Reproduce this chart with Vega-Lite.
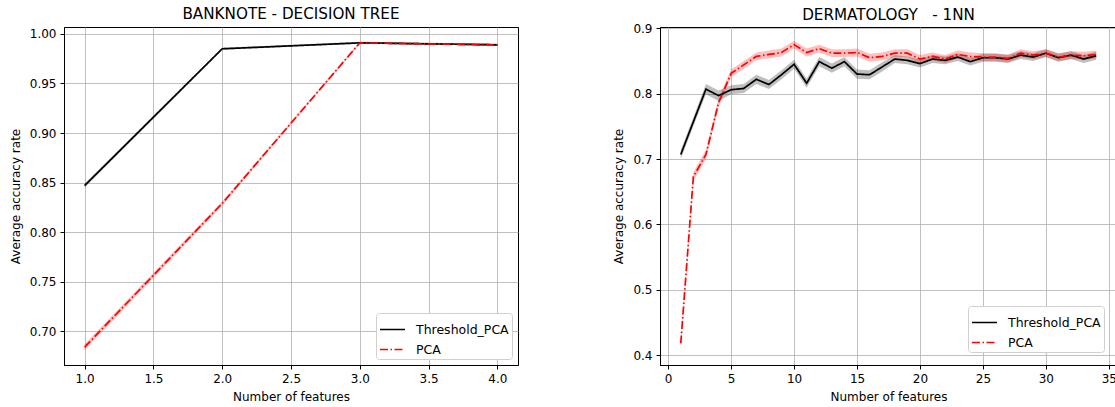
{
  "$schema": "https://vega.github.io/schema/vega-lite/v6.json",
  "padding": {"left": 8, "top": 6, "right": 0, "bottom": 0},
  "background": "white",
  "bounds": "flush",
  "spacing": 142,
  "config": {
    "font": "DejaVu Sans",
    "view": {"stroke": "black", "strokeWidth": 1},
    "axis": {
      "labelFont": "DejaVu Sans", "labelFontSize": 12, "labelColor": "black",
      "titleFont": "DejaVu Sans", "titleFontSize": 12, "titleFontWeight": "normal", "titleColor": "black",
      "tickColor": "black", "tickSize": 4, "labelPadding": 4, "domainColor": "black",
      "grid": true, "gridColor": "#b0b0b0", "gridWidth": 0.8, "titlePadding": 7
    },
    "title": {"font": "DejaVu Sans", "fontSize": 15.2, "fontWeight": "normal", "color": "black", "offset": 4.5, "anchor": "middle"},
    "legend": {
      "fillColor": "white", "strokeColor": "#d0d0d0", "cornerRadius": 3,
      "padding": 3, "labelFont": "DejaVu Sans", "labelFontSize": 12.5, "labelColor": "black",
      "symbolStrokeWidth": 1.7, "labelOffset": 10, "symbolSize": 625, "rowPadding": -3
    }
  },
  "resolve": {
    "scale": {"x": "independent", "y": "independent", "stroke": "independent", "strokeDash": "independent", "fill": "independent"},
    "legend": {"stroke": "independent", "strokeDash": "independent"}
  },
  "hconcat": [
    {
      "width": 454, "height": 338,
      "title": "BANKNOTE - DECISION TREE",
      "data": {"values": [
        {"n": 1, "s": "Threshold_PCA", "acc": 0.847, "lo": 0.845, "hi": 0.849},
        {"n": 2, "s": "Threshold_PCA", "acc": 0.985, "lo": 0.984, "hi": 0.986},
        {"n": 3, "s": "Threshold_PCA", "acc": 0.991, "lo": 0.990, "hi": 0.992},
        {"n": 4, "s": "Threshold_PCA", "acc": 0.989, "lo": 0.988, "hi": 0.990},
        {"n": 1, "s": "PCA", "acc": 0.684, "lo": 0.681, "hi": 0.687},
        {"n": 2, "s": "PCA", "acc": 0.829, "lo": 0.827, "hi": 0.831},
        {"n": 3, "s": "PCA", "acc": 0.991, "lo": 0.990, "hi": 0.992},
        {"n": 4, "s": "PCA", "acc": 0.989, "lo": 0.988, "hi": 0.990}
      ]},
      "encoding": {
        "x": {"field": "n", "type": "quantitative", "scale": {"domain": [0.85, 4.15], "nice": false, "zero": false},
              "axis": {"values": [1, 1.5, 2, 2.5, 3, 3.5, 4], "format": ".1f", "title": "Number of features"}}
      },
      "layer": [
        {
          "mark": {"type": "area", "opacity": 0.25},
          "encoding": {
            "y": {"field": "lo", "type": "quantitative", "scale": {"domain": [0.666, 1.007], "nice": false, "zero": false},
                  "axis": {"values": [0.7, 0.75, 0.8, 0.85, 0.9, 0.95, 1.0], "format": ".2f", "title": "Average accuracy rate"}},
            "y2": {"field": "hi"},
            "fill": {"field": "s", "type": "nominal", "scale": {"domain": ["PCA", "Threshold_PCA"], "range": ["#ff0000", "#000000"]}, "legend": null}
          }
        },
        {
          "mark": {"type": "line", "strokeWidth": 1.7},
          "encoding": {
            "y": {"field": "acc", "type": "quantitative"},
            "stroke": {"field": "s", "type": "nominal", "scale": {"domain": ["Threshold_PCA", "PCA"], "range": ["#000000", "#ff0000"]}, "legend": {"orient": "bottom-right", "title": null, "offset": 6}},
            "strokeDash": {"field": "s", "type": "nominal", "scale": {"domain": ["Threshold_PCA", "PCA"], "range": [[1, 0], [8, 2.5, 1.5, 2.5]]}, "legend": {"orient": "bottom-right", "title": null, "offset": 6}}
          }
        }
      ]
    },
    {
      "width": 457, "height": 338,
      "title": {"text": "DERMATOLOGY\u00a0\u00a0 - 1NN", "offset": -1},
      "data": {"values": [
        {"n": 1, "s": "Threshold_PCA", "acc": 0.707, "lo": 0.700, "hi": 0.714},
        {"n": 2, "s": "Threshold_PCA", "acc": 0.757, "lo": 0.750, "hi": 0.764},
        {"n": 3, "s": "Threshold_PCA", "acc": 0.807, "lo": 0.799, "hi": 0.815},
        {"n": 4, "s": "Threshold_PCA", "acc": 0.797, "lo": 0.789, "hi": 0.805},
        {"n": 5, "s": "Threshold_PCA", "acc": 0.806, "lo": 0.799, "hi": 0.813},
        {"n": 6, "s": "Threshold_PCA", "acc": 0.808, "lo": 0.801, "hi": 0.815},
        {"n": 7, "s": "Threshold_PCA", "acc": 0.822, "lo": 0.815, "hi": 0.829},
        {"n": 8, "s": "Threshold_PCA", "acc": 0.814, "lo": 0.807, "hi": 0.821},
        {"n": 9, "s": "Threshold_PCA", "acc": 0.829, "lo": 0.822, "hi": 0.836},
        {"n": 10, "s": "Threshold_PCA", "acc": 0.845, "lo": 0.838, "hi": 0.852},
        {"n": 11, "s": "Threshold_PCA", "acc": 0.816, "lo": 0.809, "hi": 0.823},
        {"n": 12, "s": "Threshold_PCA", "acc": 0.849, "lo": 0.842, "hi": 0.856},
        {"n": 13, "s": "Threshold_PCA", "acc": 0.839, "lo": 0.832, "hi": 0.846},
        {"n": 14, "s": "Threshold_PCA", "acc": 0.849, "lo": 0.842, "hi": 0.856},
        {"n": 15, "s": "Threshold_PCA", "acc": 0.830, "lo": 0.823, "hi": 0.837},
        {"n": 16, "s": "Threshold_PCA", "acc": 0.829, "lo": 0.822, "hi": 0.836},
        {"n": 17, "s": "Threshold_PCA", "acc": 0.841, "lo": 0.834, "hi": 0.848},
        {"n": 18, "s": "Threshold_PCA", "acc": 0.853, "lo": 0.847, "hi": 0.859},
        {"n": 19, "s": "Threshold_PCA", "acc": 0.851, "lo": 0.845, "hi": 0.857},
        {"n": 20, "s": "Threshold_PCA", "acc": 0.846, "lo": 0.840, "hi": 0.852},
        {"n": 21, "s": "Threshold_PCA", "acc": 0.853, "lo": 0.847, "hi": 0.859},
        {"n": 22, "s": "Threshold_PCA", "acc": 0.851, "lo": 0.845, "hi": 0.857},
        {"n": 23, "s": "Threshold_PCA", "acc": 0.856, "lo": 0.850, "hi": 0.862},
        {"n": 24, "s": "Threshold_PCA", "acc": 0.849, "lo": 0.843, "hi": 0.855},
        {"n": 25, "s": "Threshold_PCA", "acc": 0.855, "lo": 0.849, "hi": 0.861},
        {"n": 26, "s": "Threshold_PCA", "acc": 0.855, "lo": 0.849, "hi": 0.861},
        {"n": 27, "s": "Threshold_PCA", "acc": 0.853, "lo": 0.847, "hi": 0.859},
        {"n": 28, "s": "Threshold_PCA", "acc": 0.859, "lo": 0.853, "hi": 0.865},
        {"n": 29, "s": "Threshold_PCA", "acc": 0.856, "lo": 0.850, "hi": 0.862},
        {"n": 30, "s": "Threshold_PCA", "acc": 0.862, "lo": 0.856, "hi": 0.868},
        {"n": 31, "s": "Threshold_PCA", "acc": 0.855, "lo": 0.849, "hi": 0.861},
        {"n": 32, "s": "Threshold_PCA", "acc": 0.859, "lo": 0.853, "hi": 0.865},
        {"n": 33, "s": "Threshold_PCA", "acc": 0.853, "lo": 0.847, "hi": 0.859},
        {"n": 34, "s": "Threshold_PCA", "acc": 0.858, "lo": 0.852, "hi": 0.864},
        {"n": 1, "s": "PCA", "acc": 0.418, "lo": 0.409, "hi": 0.425},
        {"n": 2, "s": "PCA", "acc": 0.673, "lo": 0.666, "hi": 0.680},
        {"n": 3, "s": "PCA", "acc": 0.707, "lo": 0.700, "hi": 0.714},
        {"n": 4, "s": "PCA", "acc": 0.786, "lo": 0.779, "hi": 0.793},
        {"n": 5, "s": "PCA", "acc": 0.831, "lo": 0.825, "hi": 0.837},
        {"n": 6, "s": "PCA", "acc": 0.844, "lo": 0.838, "hi": 0.850},
        {"n": 7, "s": "PCA", "acc": 0.857, "lo": 0.851, "hi": 0.863},
        {"n": 8, "s": "PCA", "acc": 0.860, "lo": 0.854, "hi": 0.866},
        {"n": 9, "s": "PCA", "acc": 0.863, "lo": 0.857, "hi": 0.869},
        {"n": 10, "s": "PCA", "acc": 0.875, "lo": 0.869, "hi": 0.881},
        {"n": 11, "s": "PCA", "acc": 0.863, "lo": 0.857, "hi": 0.869},
        {"n": 12, "s": "PCA", "acc": 0.869, "lo": 0.863, "hi": 0.875},
        {"n": 13, "s": "PCA", "acc": 0.862, "lo": 0.856, "hi": 0.868},
        {"n": 14, "s": "PCA", "acc": 0.862, "lo": 0.856, "hi": 0.868},
        {"n": 15, "s": "PCA", "acc": 0.863, "lo": 0.857, "hi": 0.869},
        {"n": 16, "s": "PCA", "acc": 0.855, "lo": 0.849, "hi": 0.861},
        {"n": 17, "s": "PCA", "acc": 0.857, "lo": 0.851, "hi": 0.863},
        {"n": 18, "s": "PCA", "acc": 0.862, "lo": 0.856, "hi": 0.868},
        {"n": 19, "s": "PCA", "acc": 0.862, "lo": 0.856, "hi": 0.868},
        {"n": 20, "s": "PCA", "acc": 0.853, "lo": 0.847, "hi": 0.859},
        {"n": 21, "s": "PCA", "acc": 0.857, "lo": 0.851, "hi": 0.863},
        {"n": 22, "s": "PCA", "acc": 0.853, "lo": 0.847, "hi": 0.859},
        {"n": 23, "s": "PCA", "acc": 0.860, "lo": 0.854, "hi": 0.866},
        {"n": 24, "s": "PCA", "acc": 0.857, "lo": 0.851, "hi": 0.863},
        {"n": 25, "s": "PCA", "acc": 0.856, "lo": 0.850, "hi": 0.862},
        {"n": 26, "s": "PCA", "acc": 0.856, "lo": 0.850, "hi": 0.862},
        {"n": 27, "s": "PCA", "acc": 0.854, "lo": 0.848, "hi": 0.860},
        {"n": 28, "s": "PCA", "acc": 0.862, "lo": 0.856, "hi": 0.868},
        {"n": 29, "s": "PCA", "acc": 0.859, "lo": 0.853, "hi": 0.865},
        {"n": 30, "s": "PCA", "acc": 0.862, "lo": 0.856, "hi": 0.868},
        {"n": 31, "s": "PCA", "acc": 0.856, "lo": 0.850, "hi": 0.862},
        {"n": 32, "s": "PCA", "acc": 0.859, "lo": 0.853, "hi": 0.865},
        {"n": 33, "s": "PCA", "acc": 0.858, "lo": 0.852, "hi": 0.864},
        {"n": 34, "s": "PCA", "acc": 0.860, "lo": 0.854, "hi": 0.866}
      ]},
      "encoding": {
        "x": {"field": "n", "type": "quantitative", "scale": {"domain": [-0.65, 35.65], "nice": false, "zero": false},
              "axis": {"values": [0, 5, 10, 15, 20, 25, 30, 35], "format": "d", "title": "Number of features"}}
      },
      "layer": [
        {
          "mark": {"type": "area", "opacity": 0.25},
          "encoding": {
            "y": {"field": "lo", "type": "quantitative", "scale": {"domain": [0.385, 0.902], "nice": false, "zero": false},
                  "axis": {"values": [0.4, 0.5, 0.6, 0.7, 0.8, 0.9], "format": ".1f", "title": "Average accuracy rate"}},
            "y2": {"field": "hi"},
            "fill": {"field": "s", "type": "nominal", "scale": {"domain": ["PCA", "Threshold_PCA"], "range": ["#ff0000", "#000000"]}, "legend": null}
          }
        },
        {
          "mark": {"type": "line", "strokeWidth": 1.7},
          "encoding": {
            "y": {"field": "acc", "type": "quantitative"},
            "stroke": {"field": "s", "type": "nominal", "scale": {"domain": ["Threshold_PCA", "PCA"], "range": ["#000000", "#ff0000"]}, "legend": {"orient": "bottom-right", "title": null, "offset": 13}},
            "strokeDash": {"field": "s", "type": "nominal", "scale": {"domain": ["Threshold_PCA", "PCA"], "range": [[1, 0], [8, 2.5, 1.5, 2.5]]}, "legend": {"orient": "bottom-right", "title": null, "offset": 13}}
          }
        }
      ]
    }
  ]
}
